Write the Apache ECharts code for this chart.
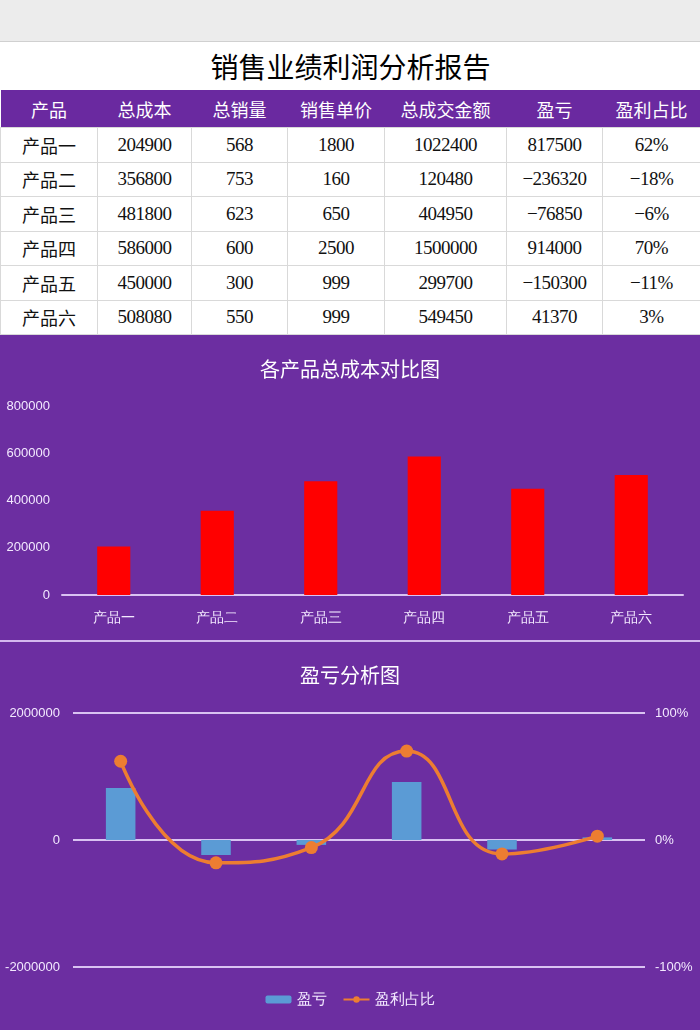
<!DOCTYPE html>
<html>
<head>
<meta charset="utf-8">
<script src="https://cdn.jsdelivr.net/npm/echarts@6/dist/echarts.min.js"></script>
<style>
    body{margin:0;width:700px;height:1030px;overflow:hidden;background:#6c2ea1;font-family:"Noto Sans CJK SC",sans-serif;}
    .top{height:41px;background:#ececec;border-bottom:1px solid #d0d0d0;}
    table{border-collapse:collapse;width:700px;table-layout:fixed;background:#fff;}
    td{border:1px solid #d9d9d9;text-align:center;padding:0;font-size:18px;color:#111;}
    td.num{font-family:"Liberation Serif",serif;font-size:19px;letter-spacing:-0.5px;}
    .title td{height:48px;font-size:28px;border:none;color:#000;}
    .head td{height:37px;background:#6a29a0;color:#fff;border:none;font-size:18px;}
    .row td{height:33.5px;}
    #c1{width:700px;height:305px;}
    .sep{height:2px;background:#d4b8ee;}
    #c2{width:700px;height:388px;}
</style>
</head>
<body>
<div class="top"></div>
<table id="tb">
    <colgroup>
        <col style="width:97px"><col style="width:94px"><col style="width:96px"><col style="width:97px">
        <col style="width:122px"><col style="width:96px"><col style="width:98px">
    </colgroup>
    <tr class="title"><td colspan="7">销售业绩利润分析报告</td></tr>
</table>
<div id="c1"></div>
<div class="sep"></div>
<div id="c2"></div>
<script>
// 表格数据
const headers=['产品','总成本','总销量','销售单价','总成交金额','盈亏','盈利占比']
const products=['产品一','产品二','产品三','产品四','产品五','产品六']
const totalCost=[204900,356800,481800,586000,450000,508080]
const totalQty=[568,753,623,600,300,550]
const unitPrice=[1800,160,650,2500,999,999]
const totalAmount=[1022400,120480,404950,1500000,299700,549450]
const profit=[817500,-236320,-76850,914000,-150300,41370]
const profitRate=[0.62,-0.18,-0.06,0.70,-0.11,0.03]

const tb=document.getElementById('tb')
let html='<tr class="head">'+headers.map(h=>'<td>'+h+'</td>').join('')+'</tr>'
products.forEach((p,i)=>{
    const cells=[totalCost[i],totalQty[i],unitPrice[i],totalAmount[i],
        String(profit[i]).replace('-','−'),
        (Math.round(profitRate[i]*100)+'%').replace('-','−')]
    html+='<tr class="row"><td>'+p+'</td>'+cells.map(c=>'<td class="num">'+c+'</td>').join('')+'</tr>'
})
tb.insertAdjacentHTML('beforeend',html)

const labelColor='#f3e9ff'
const lineColor='#d9c2f2'
const plain=v=>String(v)

//总成本柱状图
const c1=echarts.init(document.getElementById('c1'))
c1.setOption({
    animation:false,
    title:{
        text:'各产品总成本对比图',left:'center',top:19,
        textStyle:{color:'#fff',fontSize:20,fontWeight:'normal',fontFamily:'Noto Sans CJK SC'}
    },
    grid:{left:62,right:17,top:71,bottom:45},
    xAxis:{
        type:'category',data:products,
        axisLine:{lineStyle:{color:lineColor,width:2}},
        axisTick:{show:false},
        axisLabel:{color:labelColor,fontSize:14,margin:16}
    },
    yAxis:{
        type:'value',min:0,max:800000,interval:200000,
        splitLine:{show:false},
        axisLabel:{color:labelColor,fontSize:13,margin:12,formatter:plain}
    },
    series:[{
        type:'bar',data:totalCost,barWidth:'32%',
        itemStyle:{color:'#ff0000'}
    }]
})

//盈亏分析图
const c2=echarts.init(document.getElementById('c2'))
c2.setOption({
    animation:false,
    title:{
        text:'盈亏分析图',left:'center',top:18,
        textStyle:{color:'#fff',fontSize:20,fontWeight:'normal',fontFamily:'Noto Sans CJK SC'}
    },
    legend:{
        bottom:18,itemWidth:26,itemHeight:8,itemGap:16,
        textStyle:{color:labelColor,fontSize:15},
        data:['盈亏','盈利占比']
    },
    grid:{left:73,right:55,top:71,bottom:63},
    xAxis:{
        type:'category',data:products,
        axisLine:{show:false},axisTick:{show:false},axisLabel:{show:false}
    },
    yAxis:[{
        type:'value',min:-2000000,max:2000000,interval:2000000,
        axisLabel:{color:labelColor,fontSize:13,margin:13,formatter:plain},
        splitLine:{lineStyle:{color:lineColor,width:2}}
    },{
        type:'value',min:-1,max:1,interval:1,
        axisLabel:{color:labelColor,fontSize:13,margin:10,formatter:v=>Math.round(v*100)+'%'},
        splitLine:{show:false}
    }],
    series:[{
        name:'盈亏',type:'bar',data:profit,barWidth:'31%',
        itemStyle:{color:'#5b9bd5'}
    },{
        name:'盈利占比',type:'line',yAxisIndex:1,data:profitRate,smooth:0.5,
        symbol:'circle',symbolSize:13,
        lineStyle:{color:'#ed7d31',width:3.5},
        itemStyle:{color:'#ed7d31'}
    }]
})
</script>
</body>
</html>
